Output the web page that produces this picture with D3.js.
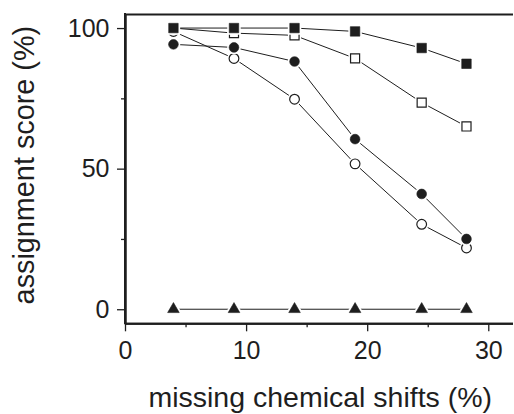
<!DOCTYPE html>
<html>
<head>
<meta charset="utf-8">
<script src="https://cdn.jsdelivr.net/npm/d3@7"></script>
<style>
  html, body { margin: 0; padding: 0; background: #fff; }
  svg { display: block; }
  text { font-family: "Liberation Sans", Arial, Helvetica, sans-serif; fill: #1e1e1e; }
</style>
</head>
<body>
<svg id="chart" width="514" height="414"></svg>
<script>
// Missing chemical shifts (%) for each test set
const missing = [4, 9, 14, 19, 24.5, 28.2];

// Assignment score (%) for each series
const filledSquares = [100, 100, 100, 98.8, 92.9, 87.3];
const openSquares   = [100, 98.2, 97.4, 89.2, 73.5, 65];
const filledCircles = [94.2, 93.1, 88.1, 60.5, 41.0, 25];
const openCircles   = [98.8, 89.2, 74.7, 51.7, 30.2, 21.8];
const triangles     = [0, 0, 0, 0, 0, 0];

const xMajorTicks = [0, 10, 20, 30];
const xMinorTicks = [5, 15, 25];
const yMajorTicks = [0, 50, 100];
const yMinorTicks = [25, 75];

const xLabel = "missing chemical shifts (%)";
const yLabel = "assignment score (%)";

const svg = d3.select("#chart");
const ink = "#1e1e1e";

const plotLeft = 125, plotRight = 512.5, plotTop = 14, plotBottom = 323.3;
const x = d3.scaleLinear().domain([0, 32]).range([plotLeft, plotRight]);
const y = d3.scaleLinear().domain([-5, 105]).range([plotBottom, plotTop]);

// Axes: major ticks with labels, minor ticks without
function styleAxis(g) {
  g.selectAll("path.domain").attr("stroke", ink).attr("stroke-width", 2);
  g.selectAll(".tick line").attr("stroke", ink).attr("stroke-width", 1.3);
  g.selectAll(".tick text").style("font-size", "25px").attr("fill", ink)
    .style("font-family", "'Liberation Sans', Arial, Helvetica, sans-serif");
}

svg.append("g")
  .attr("transform", `translate(0,${plotBottom})`)
  .call(d3.axisBottom(x).tickValues(xMinorTicks).tickSize(4).tickSizeOuter(0).tickFormat(""))
  .call(styleAxis);
svg.append("g")
  .attr("transform", `translate(0,${plotBottom})`)
  .call(d3.axisBottom(x).tickValues(xMajorTicks).tickSize(8).tickSizeOuter(0).tickPadding(9.5).tickFormat(d3.format("d")))
  .call(styleAxis);

svg.append("g")
  .attr("transform", `translate(${plotLeft},0)`)
  .call(d3.axisLeft(y).tickValues(yMinorTicks).tickSize(4).tickSizeOuter(0).tickFormat(""))
  .call(styleAxis);
svg.append("g")
  .attr("transform", `translate(${plotLeft},0)`)
  .call(d3.axisLeft(y).tickValues(yMajorTicks).tickSize(8).tickSizeOuter(0).tickPadding(7.5).tickFormat(d3.format("d")))
  .call(styleAxis);

// Top frame line
svg.append("g")
  .attr("transform", `translate(0,${plotTop})`)
  .call(d3.axisTop(x).tickValues([]).tickSizeOuter(0))
  .call(styleAxis);
svg.append("line")
  .attr("x1", plotLeft).attr("x2", plotLeft)
  .attr("y1", plotTop - 1).attr("y2", plotBottom + 1)
  .attr("stroke", ink).attr("stroke-width", 2);

// Axis titles
svg.append("text")
  .attr("x", (plotLeft + plotRight) / 2 + 1.5)
  .attr("y", 406.5)
  .attr("text-anchor", "middle")
  .style("font-size", "28.5px")
  .text(xLabel);

svg.append("text")
  .attr("transform", `translate(34,${(plotTop + plotBottom) / 2 - 3.5}) rotate(-90)`)
  .attr("text-anchor", "middle")
  .style("font-size", "28.8px")
  .text(yLabel);

// Series
const series = [
  { values: openCircles,   symbol: d3.symbolCircle,   size: 74, filled: false },
  { values: filledCircles, symbol: d3.symbolCircle,   size: 74, filled: true },
  { values: openSquares,   symbol: d3.symbolSquare,   size: 82, filled: false },
  { values: filledSquares, symbol: d3.symbolSquare,   size: 90, filled: true },
  { values: triangles,     symbol: d3.symbolTriangle, size: 58, filled: true }
];

const line = d3.line().x(d => x(d[0])).y(d => y(d[1]));

series.forEach(s => {
  const pts = missing.map((m, i) => [m, s.values[i]]);
  const g = svg.append("g");
  g.append("path")
    .attr("d", line(pts))
    .attr("fill", "none")
    .attr("stroke", ink)
    .attr("stroke-width", 1);
  const sym = d3.symbol().type(s.symbol).size(s.size);
  // white halo so the connecting lines stop short of each marker
  g.selectAll("path.halo")
    .data(pts)
    .join("path")
    .attr("class", "halo")
    .attr("transform", d => `translate(${x(d[0])},${y(d[1])})`)
    .attr("d", sym)
    .attr("fill", "#fff")
    .attr("stroke", "#fff")
    .attr("stroke-width", 4);
  g.selectAll("path.mark")
    .data(pts)
    .join("path")
    .attr("class", "mark")
    .attr("transform", d => `translate(${x(d[0])},${y(d[1])})`)
    .attr("d", sym)
    .attr("fill", s.filled ? ink : "#fff")
    .attr("stroke", ink)
    .attr("stroke-width", s.filled ? 0.6 : 1.2);
});
</script>
</body>
</html>
